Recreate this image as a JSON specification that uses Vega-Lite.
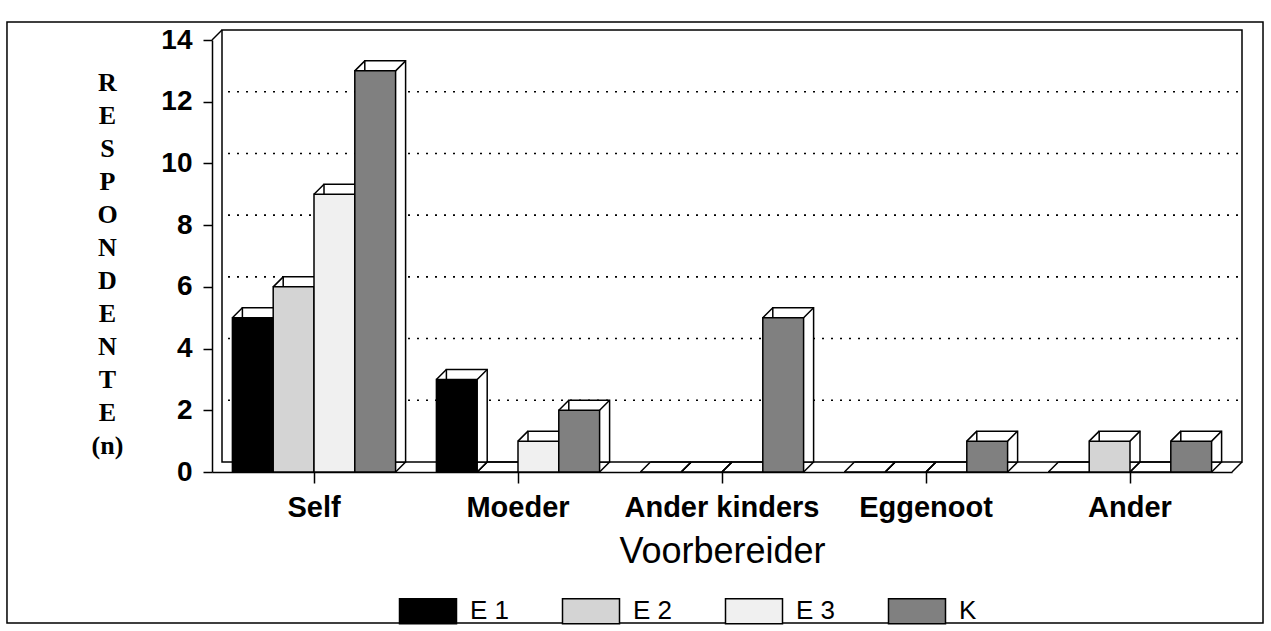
{
  "$schema": "https://vega.github.io/schema/vega-lite/v6.json",
  "width": 1020,
  "height": 432,
  "autosize": "none",
  "padding": {"left": 212, "top": 40, "right": 39, "bottom": 159},
  "background": "white",
  "config": {"view": {"stroke": null}, "font": "Liberation Sans"},
  "datasets": {
    "bars": [
      {"cat": "Self", "ser": "E 1", "n": 5},
      {"cat": "Self", "ser": "E 2", "n": 6},
      {"cat": "Self", "ser": "E 3", "n": 9},
      {"cat": "Self", "ser": "K", "n": 13},
      {"cat": "Moeder", "ser": "E 1", "n": 3},
      {"cat": "Moeder", "ser": "E 2", "n": 0},
      {"cat": "Moeder", "ser": "E 3", "n": 1},
      {"cat": "Moeder", "ser": "K", "n": 2},
      {"cat": "Ander kinders", "ser": "E 1", "n": 0},
      {"cat": "Ander kinders", "ser": "E 2", "n": 0},
      {"cat": "Ander kinders", "ser": "E 3", "n": 0},
      {"cat": "Ander kinders", "ser": "K", "n": 5},
      {"cat": "Eggenoot", "ser": "E 1", "n": 0},
      {"cat": "Eggenoot", "ser": "E 2", "n": 0},
      {"cat": "Eggenoot", "ser": "E 3", "n": 0},
      {"cat": "Eggenoot", "ser": "K", "n": 1},
      {"cat": "Ander", "ser": "E 1", "n": 0},
      {"cat": "Ander", "ser": "E 2", "n": 1},
      {"cat": "Ander", "ser": "E 3", "n": 0},
      {"cat": "Ander", "ser": "K", "n": 1}
    ],
    "grid": [{"n": 2}, {"n": 4}, {"n": 6}, {"n": 8}, {"n": 10}, {"n": 12}],
    "wall": [{"n": 0, "n2": 14}]
  },
  "resolve": {"scale": {"x": "independent"}},
  "encoding": {
    "y": {
      "field": "n",
      "type": "quantitative",
      "scale": {"domain": [0, 14], "nice": false, "zero": true},
      "axis": {
        "values": [0, 2, 4, 6, 8, 10, 12, 14],
        "grid": false,
        "domainColor": "black",
        "domainWidth": 1.5,
        "tickColor": "black",
        "tickWidth": 1.5,
        "tickSize": 9,
        "labelFont": "Liberation Sans",
        "labelFontSize": 28,
        "labelFontWeight": "bold",
        "labelColor": "black",
        "labelPadding": 11,
        "title": ["R", "E", "S", "P", "O", "N", "D", "E", "N", "T", "E", "(n)"],
        "titleFont": "Liberation Serif",
        "titleFontSize": 26,
        "titleFontWeight": "bold",
        "titleColor": "black",
        "titleAngle": 0,
        "titleAlign": "center",
        "titleBaseline": "top",
        "titleLineHeight": 33,
        "titleX": -105,
        "titleY": 29
      }
    }
  },
  "layer": [
    {
      "data": {"name": "wall"},
      "layer": [
        {
          "mark": {"type": "rect", "fill": "transparent", "stroke": "black", "strokeWidth": 1.5},
          "encoding": {
            "x": {"datum": -0.201, "type": "quantitative", "scale": {"domain": [0, 1], "nice": false}, "axis": null},
            "x2": {"datum": 1.0304},
            "y": {"datum": 14.58},
            "y2": {"datum": -4.89}
          }
        },
        {
          "mark": {"type": "rect", "fill": "white", "stroke": "black", "strokeWidth": 1.5, "xOffset": 10, "x2Offset": 10, "yOffset": -10, "y2Offset": -10},
          "encoding": {
            "x": {"datum": 0, "type": "quantitative", "axis": null},
            "x2": {"datum": 1},
            "y2": {"field": "n2"}
          }
        },
        {
          "data": {"name": "grid"},
          "mark": {"type": "rule", "stroke": "black", "strokeDash": [2, 7], "strokeWidth": 1.6, "xOffset": 16, "x2Offset": 8, "yOffset": -10, "y2Offset": -10},
          "encoding": {
            "x": {"datum": 0, "type": "quantitative", "axis": null},
            "x2": {"datum": 1}
          }
        },
        {
          "mark": {"type": "point", "shape": "M0,0L1,-1", "size": 400, "filled": false, "stroke": "black", "strokeWidth": 1.5, "opacity": 1},
          "encoding": {
            "x": {"datum": 0, "type": "quantitative", "axis": null},
            "y": {"datum": 14}
          }
        },
        {
          "mark": {"type": "point", "shape": "M0,0L1,-1", "size": 400, "filled": false, "stroke": "black", "strokeWidth": 1.5, "opacity": 1},
          "encoding": {
            "x": {"datum": 1, "type": "quantitative", "axis": null},
            "y": {"datum": 0}
          }
        }
      ]
    },
    {
      "data": {"name": "bars"},
      "resolve": {"scale": {"xOffset": "independent"}},
      "encoding": {
        "x": {
          "field": "cat", "type": "nominal",
          "sort": ["Self", "Moeder", "Ander kinders", "Eggenoot", "Ander"],
          "scale": {"paddingInner": 0.2, "paddingOuter": 0.1},
          "axis": {
            "labelAngle": 0,
            "labelLimit": 0,
            "domainColor": "black",
            "domainWidth": 1.5,
            "tickColor": "black",
            "tickWidth": 1.5,
            "tickSize": 11,
            "labelFont": "Liberation Sans",
            "labelFontSize": 29,
            "labelFontWeight": "bold",
            "labelColor": "black",
            "labelPadding": 10,
            "title": "Voorbereider",
            "titleFont": "Liberation Sans",
            "titleFontSize": 36,
            "titleFontWeight": "normal",
            "titleColor": "black",
            "titlePadding": 12
          }
        }
      },
      "layer": [
        {
          "mark": {"type": "bar", "fill": "white", "stroke": "black", "strokeWidth": 1.5, "yOffset": -10, "y2Offset": -10},
          "encoding": {
            "xOffset": {"field": "ser", "sort": ["E 1", "E 2", "E 3", "K"], "scale": {"range": [10, 173.2], "paddingInner": 0, "paddingOuter": 0}}
          }
        },
        {
          "mark": {"type": "point", "shape": "M-2.04,0L-1.04,-1M2.04,0L3.04,-1", "size": 400, "filled": false, "stroke": "black", "strokeWidth": 1.5, "opacity": 1},
          "encoding": {
            "xOffset": {"field": "ser", "sort": ["E 1", "E 2", "E 3", "K"], "scale": {"type": "point", "padding": 0.5}}
          }
        },
        {
          "mark": {"type": "point", "shape": "M2.04,0L3.04,-1", "size": 400, "filled": false, "stroke": "black", "strokeWidth": 1.5, "opacity": 1},
          "encoding": {
            "xOffset": {"field": "ser", "sort": ["E 1", "E 2", "E 3", "K"], "scale": {"type": "point", "padding": 0.5}},
            "y": {"datum": 0}
          }
        },
        {
          "mark": {"type": "bar", "stroke": "black", "strokeWidth": 1.5},
          "encoding": {
            "xOffset": {"field": "ser", "sort": ["E 1", "E 2", "E 3", "K"], "scale": {"paddingInner": 0, "paddingOuter": 0}},
            "color": {
              "field": "ser", "type": "nominal",
              "scale": {"domain": ["E 1", "E 2", "E 3", "K"], "range": ["#000000", "#d4d4d4", "#f0f0f0", "#808080"]},
              "legend": {
                "orient": "none",
                "legendX": 196,
                "legendY": 551,
                "direction": "horizontal",
                "title": null,
                "padding": 0,
                "symbolType": "M-1.5,-0.66H1.5V0.66H-1.5Z",
                "symbolSize": 1444,
                "symbolStrokeColor": "black",
                "symbolStrokeWidth": 1.5,
                "symbolOpacity": 1,
                "labelFont": "Liberation Sans",
                "labelFontSize": 26,
                "labelColor": "black",
                "labelOffset": 22,
                "columnPadding": 49
              }
            }
          }
        }
      ]
    }
  ]
}
